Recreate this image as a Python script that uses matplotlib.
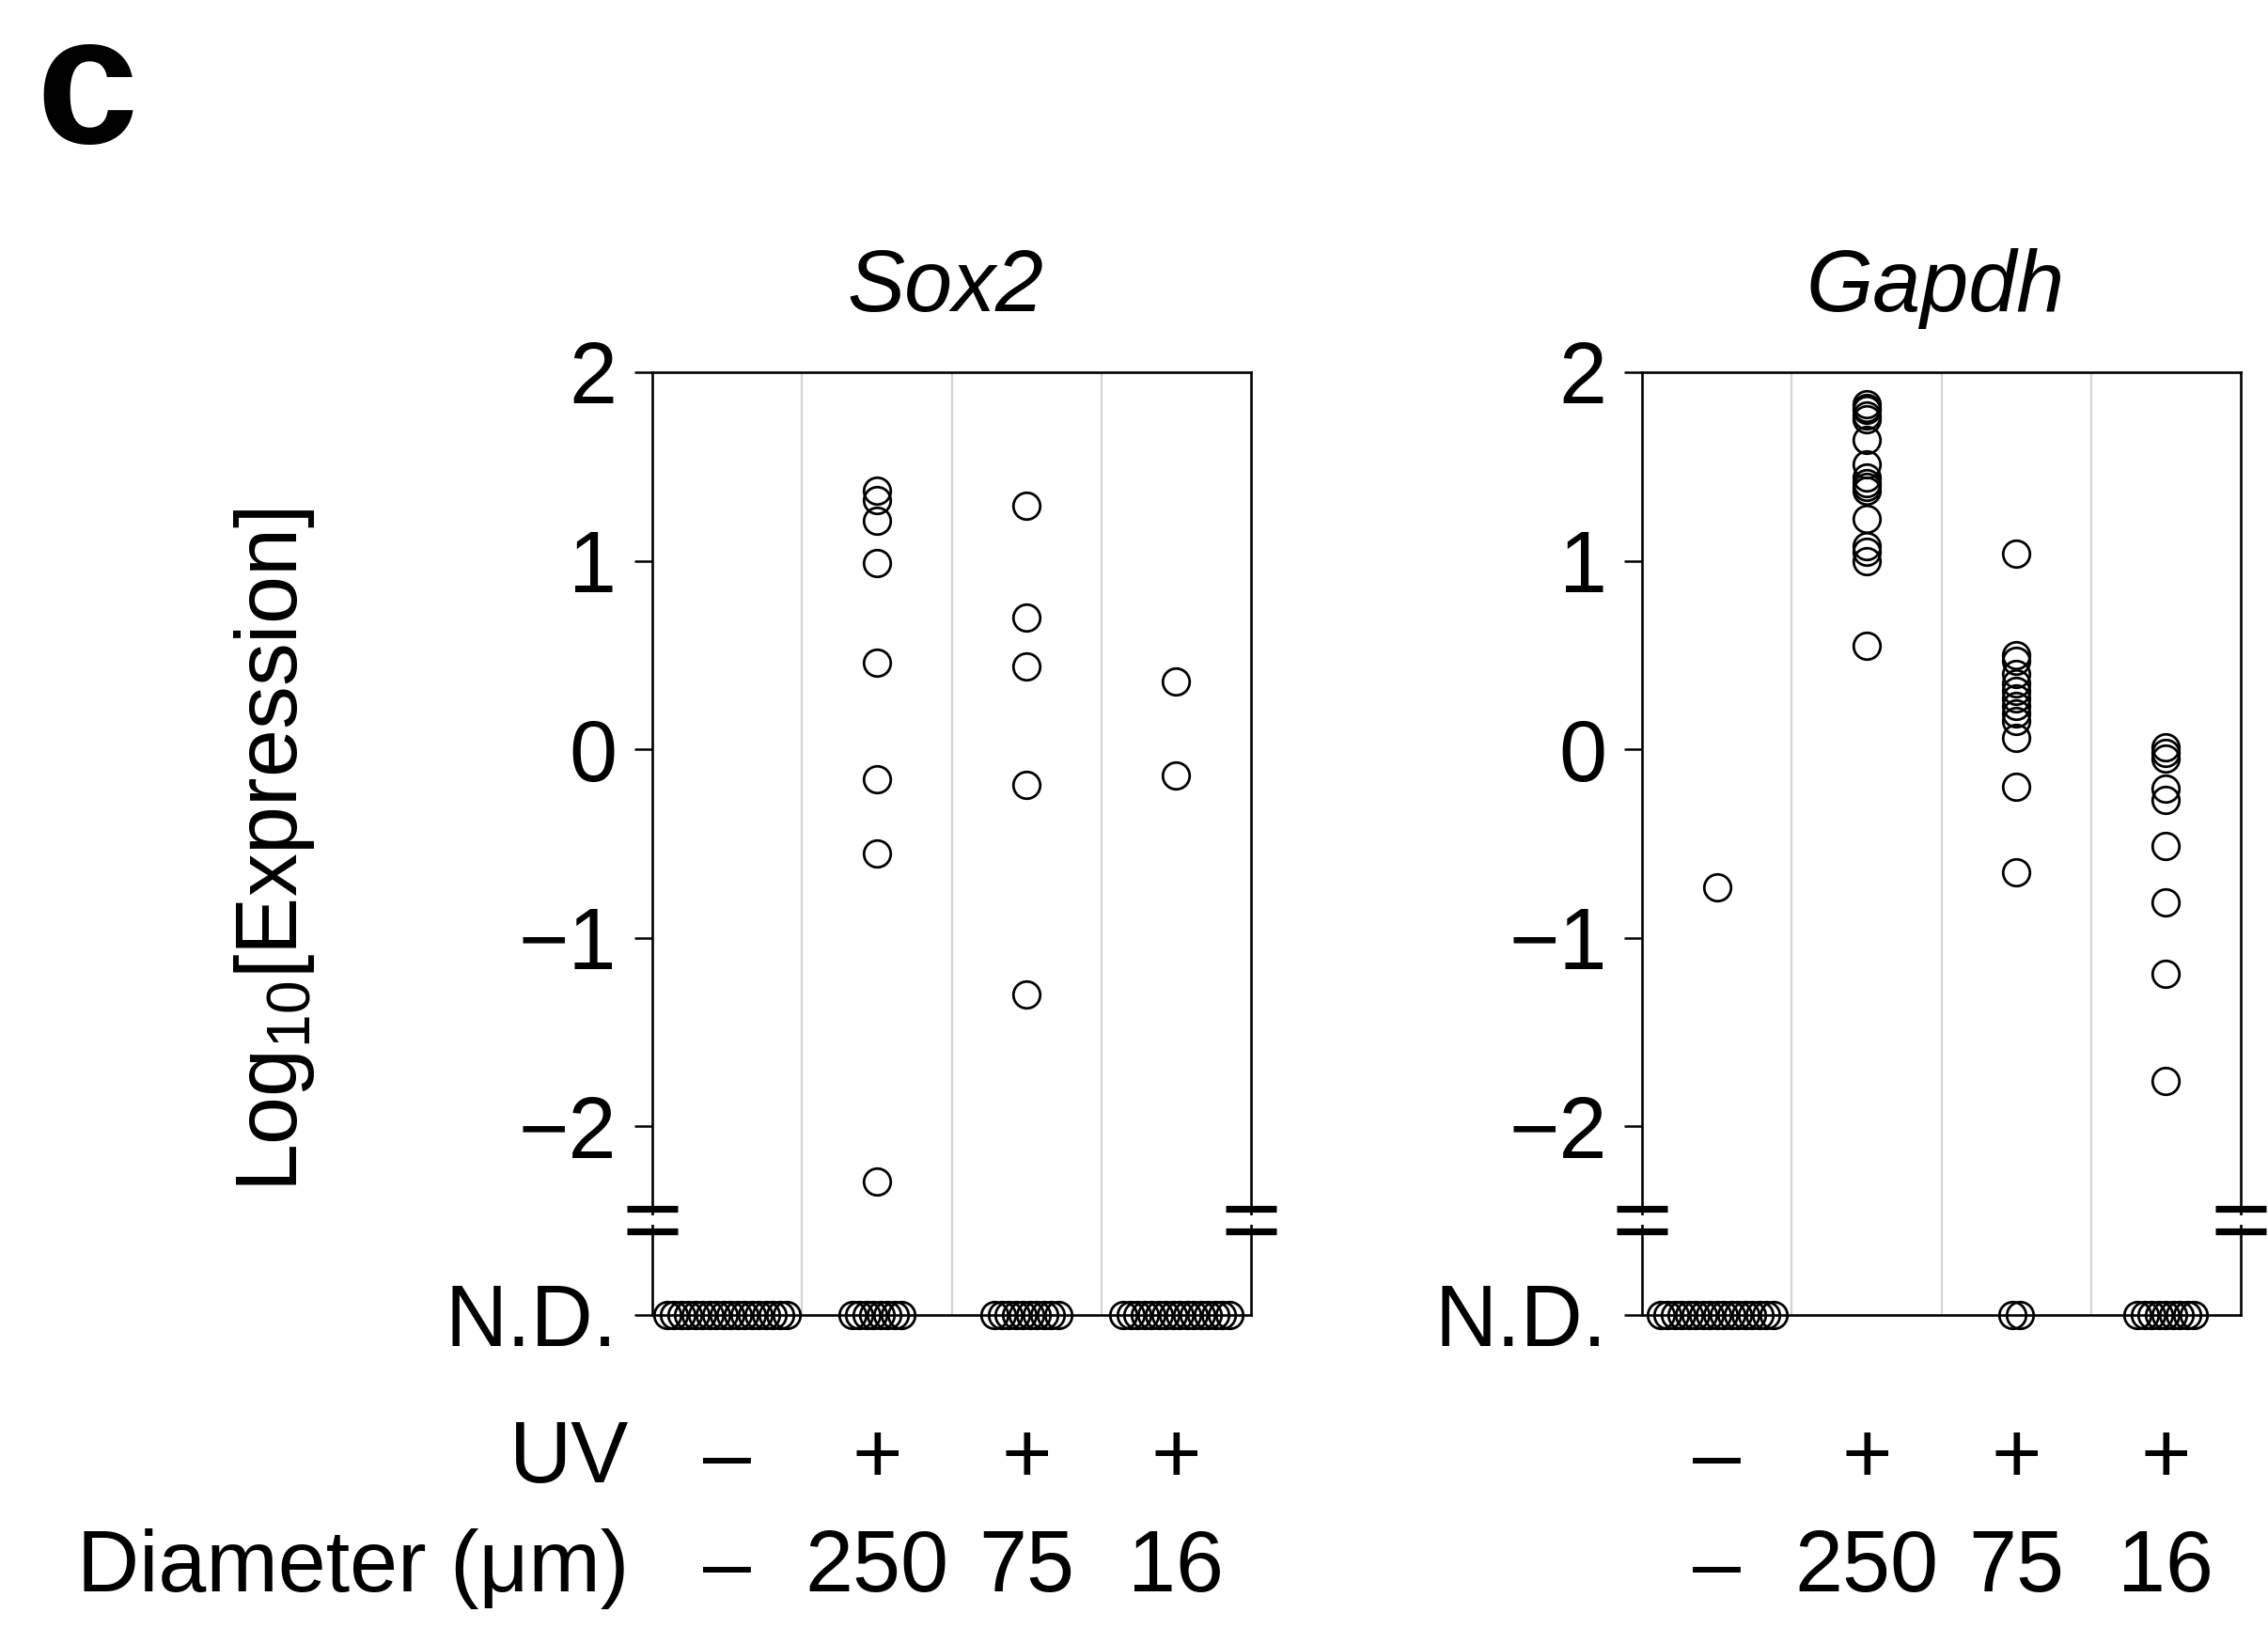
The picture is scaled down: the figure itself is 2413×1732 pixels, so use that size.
import matplotlib
matplotlib.use("Agg")
import matplotlib.pyplot as plt
import matplotlib.transforms as mtransforms
import numpy as np

plt.rcParams['font.family'] = ['Liberation Sans', 'DejaVu Sans']
plt.rcParams['mathtext.fontset'] = 'custom'
plt.rcParams['mathtext.rm'] = 'Liberation Sans'
plt.rcParams['mathtext.it'] = 'Liberation Sans:italic'

# ---------------- data ----------------
genes = ["Sox2", "Gapdh"]
uv_labels = ["\u2013", "+", "+", "+"]
diameter_labels = ["\u2013", "250", "75", "16"]
ytick_values = [2, 1, 0, -1, -2, -3]
ytick_labels = ["2", "1", "0", "\u22121", "\u22122", "N.D."]
nd_level = -3

# detected values (log10 expression) per condition
sox2_detected = [
    [],
    [1.37, 1.32, 1.21, 0.99, 0.46, -0.16, -0.55, -2.29],
    [1.29, 0.70, 0.44, -0.19, -1.30],
    [0.36, -0.14],
]
gapdh_detected = [
    [-0.73],
    [1.83, 1.81, 1.80, 1.77, 1.75, 1.64, 1.51, 1.44, 1.41, 1.39, 1.37,
     1.22, 1.08, 1.05, 1.00, 0.55],
    [1.04, 0.50, 0.47, 0.40, 0.35, 0.31, 0.27, 0.23, 0.19, 0.15, 0.06,
     -0.20, -0.65],
    [0.01, -0.02, -0.05, -0.21, -0.27, -0.51, -0.81, -1.19, -1.76],
]
# number of not-detected cells per condition
sox2_nd = [18, 8, 10, 16]
gapdh_nd = [17, 0, 2, 9]

detected = [sox2_detected, gapdh_detected]
nd_counts = [sox2_nd, gapdh_nd]

# ---------------- figure ----------------
W, H = 2413, 1732
fig = plt.figure(figsize=(W / 100, H / 100), dpi=100)

def fx(px):
    return px / W

def fy(py):
    return 1 - py / H

ax_top, ax_bot = 396, 1399
ax_lefts = [694, 1747]
ax_w = 637

FS = 66
ms = 20.5
mew = 2.0
nd_step = 0.047

axes = []
for gi, gene in enumerate(genes):
    ax = fig.add_axes([fx(ax_lefts[gi]), fy(ax_bot), fx(ax_w), (ax_bot - ax_top) / H])
    axes.append(ax)
    ax.set_xlim(0, 4)
    ax.set_ylim(-3, 2)
    for xb in [1, 2, 3]:
        ax.axvline(xb, color="#d4d4d4", lw=1.6, zorder=0)
    for ci in range(4):
        xc = ci + 0.5
        vals = detected[gi][ci]
        if vals:
            ax.plot([xc] * len(vals), vals, linestyle="none", marker="o",
                    ms=ms, mfc="none", mec="black", mew=mew, clip_on=False, zorder=3)
        n = nd_counts[gi][ci]
        if n:
            offs = (np.arange(n) - (n - 1) / 2) * nd_step
            ax.plot(xc + offs, [nd_level] * n, linestyle="none", marker="o",
                    ms=ms, mfc="none", mec="black", mew=mew, clip_on=False, zorder=3)
    for sp in ax.spines.values():
        sp.set_linewidth(1.9)
        sp.set_color("black")
    ax.set_xticks([])
    ax.set_yticks(ytick_values)
    ax.set_yticklabels(ytick_labels)
    ax.tick_params(axis="y", direction="out", length=14, width=1.8, pad=13,
                   labelsize=FS, colors="black")
    # title
    ax.text(0.49, 1.065, gene, transform=ax.transAxes, ha="center", va="baseline",
            fontsize=FS, fontstyle="italic")
    # axis break marks on both vertical spines
    bt = mtransforms.blended_transform_factory(ax.transAxes, ax.transData)
    for xs in [0, 1]:
        ax.plot([xs, xs], [-2.47, -2.52], transform=bt, color="white", lw=4,
                solid_capstyle="butt", clip_on=False, zorder=5)
        for yb in [-2.435, -2.555]:
            ax.plot([xs - 0.043, xs + 0.043], [yb, yb], transform=bt, color="black",
                    lw=5.2, solid_capstyle="butt", clip_on=False, zorder=6)
    # condition labels under the panel
    tb = mtransforms.blended_transform_factory(ax.transData, fig.transFigure)
    for ci in range(4):
        ax.text(ci + 0.5, fy(1577), uv_labels[ci], transform=tb, ha="center",
                va="baseline", fontsize=FS)
        ax.text(ci + 0.5, fy(1693), diameter_labels[ci], transform=tb, ha="center",
                va="baseline", fontsize=FS)

# row labels
fig.text(fx(669), fy(1577), "UV", ha="right", va="baseline", fontsize=FS)
fig.text(fx(669), fy(1693), "Diameter (\u03bcm)", ha="right", va="baseline", fontsize=FS)

# y label
fig.text(fx(292), fy(904), r"Log$_{10}$[Expression]", rotation=90, ha="center",
         va="center", fontsize=FS)

# panel letter
fig.text(fx(38), fy(152), "c", ha="left", va="baseline", fontsize=140, fontweight="bold")

fig.savefig("out.png", dpi=100, facecolor="white")
